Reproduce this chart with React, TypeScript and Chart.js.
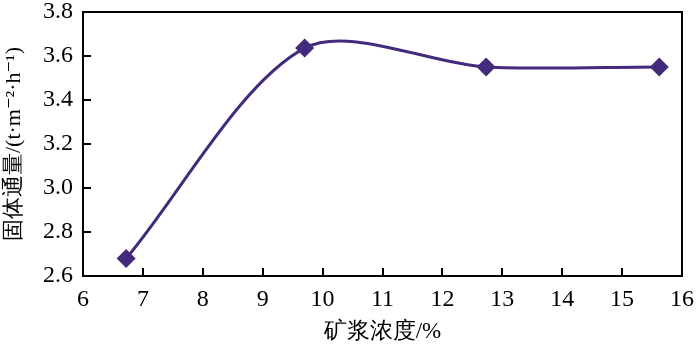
import React, { useEffect, useRef } from "react";
import { Chart, registerables } from "chart.js";

Chart.register(...registerables);

// Data
const concentration = [6.72, 9.7, 12.73, 15.62];
const solidFlux = [2.68, 3.636, 3.55, 3.55];

const xTickValues = [6, 7, 8, 9, 10, 11, 12, 13, 14, 15, 16];
const yTickValues = [2.6, 2.8, 3.0, 3.2, 3.4, 3.6, 3.8];

const xTitle = "矿浆浓度/%";
const yTitle = "固体通量/(t·m⁻²·h⁻¹)";

const LINE_COLOR = "#422a7c";
const FONT_FAMILY = '"Liberation Serif", "Times New Roman", "DejaVu Serif", serif';

const framePlugin = {
  id: "framePlugin",
  beforeDatasetsDraw(chart: any) {
    const { ctx, chartArea, scales } = chart;
    const { left, top, right, bottom } = chartArea;
    const xs = scales.x;
    const ys = scales.y;
    ctx.save();
    ctx.strokeStyle = "#000";
    ctx.lineWidth = 2;
    ctx.strokeRect(left, top, right - left, bottom - top);
    ctx.beginPath();
    const xMin = xTickValues[0];
    const xMax = xTickValues[xTickValues.length - 1];
    xTickValues.forEach((v) => {
      if (v > xMin && v < xMax) {
        const px = Math.round(xs.getPixelForValue(v));
        ctx.moveTo(px, bottom);
        ctx.lineTo(px, bottom - 8);
      }
    });
    const yMin = yTickValues[0];
    const yMax = yTickValues[yTickValues.length - 1];
    yTickValues.forEach((v) => {
      if (v > yMin + 1e-9 && v < yMax - 1e-9) {
        const py = Math.round(ys.getPixelForValue(v));
        ctx.moveTo(left, py);
        ctx.lineTo(left + 8, py);
      }
    });
    ctx.stroke();
    ctx.restore();
  },
};

(Chart.defaults.font as any).family = FONT_FAMILY;

export default function App() {
  const canvasRef = useRef<HTMLCanvasElement | null>(null);

  useEffect(() => {
    document.body.style.margin = "0";
    const canvas = canvasRef.current;
    if (!canvas) return;
    const chart = new Chart(canvas, {
      type: "line",
      data: {
        datasets: [
          {
            data: concentration.map((x, i) => ({ x, y: solidFlux[i] })),
            borderColor: LINE_COLOR,
            backgroundColor: LINE_COLOR,
            borderWidth: 3,
            tension: 0.3,
            pointStyle: "rectRot",
            pointRadius: 9.5,
            pointBorderWidth: 0,
            pointBackgroundColor: LINE_COLOR,
            fill: false,
          },
        ],
      },
      options: {
        animation: false,
        responsive: false,
        devicePixelRatio: 1,
        layout: { padding: { top: 12, right: 18, left: 0, bottom: 0 } },
        plugins: {
          legend: { display: false },
          tooltip: { enabled: false },
        },
        scales: {
          x: {
            type: "linear",
            min: 6,
            max: 16,
            afterFit: (scale: any) => {
              scale.height = 73;
              scale.paddingLeft = 0;
              scale.paddingRight = 0;
            },
            afterBuildTicks: (scale: any) => {
              scale.ticks = xTickValues.map((v) => ({ value: v }));
            },
            grid: { display: false, drawTicks: false },
            border: { display: false },
            ticks: {
              color: "#000",
              font: { family: FONT_FAMILY, size: 24, lineHeight: 1 },
              padding: 12,
              maxRotation: 0,
              autoSkip: false,
              callback: (v: any) => String(v),
            },
            title: {
              display: true,
              text: xTitle,
              color: "#000",
              font: { family: FONT_FAMILY, size: 23 },
              padding: { top: 0, bottom: 3 },
            },
          },
          y: {
            type: "linear",
            min: 2.6,
            max: 3.8,
            afterFit: (scale: any) => {
              scale.width = 83;
              scale.paddingTop = 0;
              scale.paddingBottom = 0;
            },
            afterBuildTicks: (scale: any) => {
              scale.ticks = yTickValues.map((v) => ({ value: v }));
            },
            grid: { display: false, drawTicks: false },
            border: { display: false },
            ticks: {
              color: "#000",
              font: { family: FONT_FAMILY, size: 24, lineHeight: 1 },
              padding: 10,
              autoSkip: false,
              callback: (v: any) => Number(v).toFixed(1),
            },
            title: {
              display: true,
              text: yTitle,
              color: "#000",
              font: { family: FONT_FAMILY, size: 22 },
              padding: { top: 1, bottom: 0 },
            },
          },
        },
      },
      plugins: [framePlugin],
    });
    return () => {
      chart.destroy();
    };
  }, []);

  return (
    <div style={{ position: "absolute", left: 0, top: 0, width: 700, height: 349, background: "#fff" }}>
      <span
        aria-hidden="true"
        style={{ position: "absolute", left: -9999, top: 0, fontFamily: FONT_FAMILY, fontSize: 24 }}
      >
        0123456789.
      </span>
      <canvas ref={canvasRef} width={700} height={349} style={{ display: "block" }} />
    </div>
  );
}
